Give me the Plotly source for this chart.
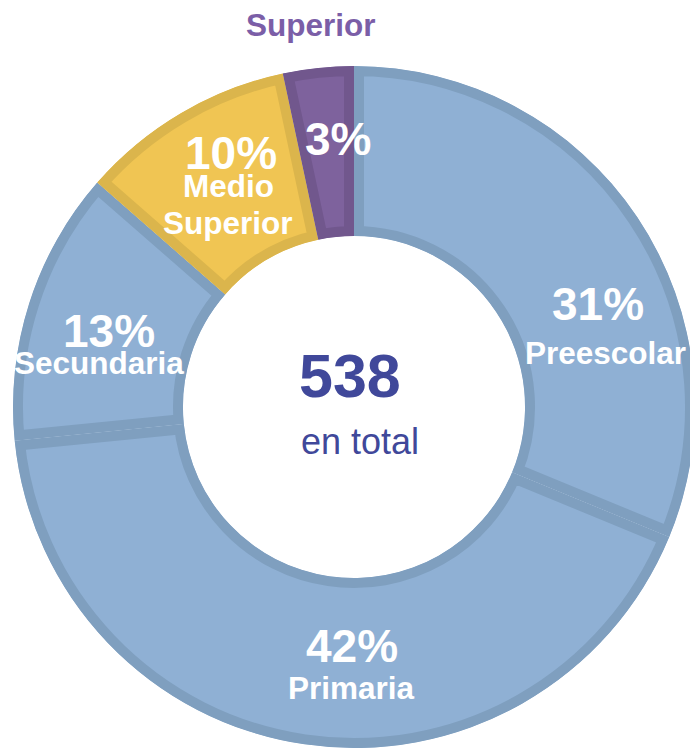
import plotly.graph_objects as go

# ---- data ----
labels = ["Preescolar", "Primaria", "Secundaria", "Medio Superior", "Superior"]
values = [168, 227, 70, 55, 18]
fill_colors = ["#8fb0d4", "#8fb0d4", "#8fb0d4", "#f0c553", "#7e629d"]
line_colors = ["#7f9fbf", "#7f9fbf", "#7f9fbf", "#dbb54c", "#71578d"]
total_label = "en total"

W, H = 700, 752   # slightly wider than the window: the ring is cut at the right edge
total = sum(values)

# pie geometry (pixels)
cx, cy, R = 354, 407, 341
dom_x = [(cx - R) / W, (cx + R) / W]
dom_y = [1 - (cy + R) / H, 1 - (cy - R) / H]

fig = go.Figure()
fig.add_trace(go.Pie(
    labels=labels, values=values, sort=False, direction="clockwise", rotation=0,
    hole=0.5015, textinfo="none", hoverinfo="label+percent", showlegend=False,
    marker=dict(colors=fill_colors, line=dict(color=line_colors, width=20)),
    domain=dict(x=dom_x, y=dom_y),
))

FONT = "Liberation Sans, Arial, sans-serif"

def ann(text, x, y, size, color="white", bold=True):
    t = f"<b>{text}</b>" if bold else text
    fig.add_annotation(text=t, x=x / W, y=1 - y / H, xref="paper", yref="paper",
                       showarrow=False, xanchor="center", yanchor="middle",
                       font=dict(family=FONT, size=size, color=color))

# label placement (pixel centres): pct position, then line positions
placements = {
    "Preescolar": ((598, 304), [(605, 353)]),
    "Primaria": ((352, 646), [(351, 688)]),
    "Secundaria": ((109, 331), [(99, 363)]),
    "Medio Superior": ((231, 153), [(228, 186), (228, 223)]),
    "Superior": ((338, 139), []),
}

for lab, v in zip(labels, values):
    pct = f"{round(v / total * 100)}%"
    (px, py), lines = placements[lab]
    ann(pct, px, py, 46)
    words = lab.split(" ")
    for w_, (lx, ly) in zip(words, lines):
        ann(w_, lx, ly, 31.5)

# outside label for smallest slice
ann(labels[4], 311, 25, 31.5, color="#7b5ea7")

# centre text
ann(str(total), 350, 376, 61, color="#40489a")
ann(total_label, 360, 441, 36, color="#40489a", bold=False)

fig.update_layout(width=W, height=H, margin=dict(l=0, r=0, t=0, b=0),
                  paper_bgcolor="white", plot_bgcolor="white")

# remove page margin/scrollbars and keep slice borders inside each slice
post = """
document.body.style.margin = '0';
document.body.style.overflow = 'hidden';
document.documentElement.style.overflow = 'hidden';
var gd = document.getElementById('{plot_id}');
function insetBorders(){
  var defs = gd.querySelector('svg.main-svg defs');
  var paths = gd.querySelectorAll('g.slice path.surface');
  paths.forEach(function(p, i){
    var id = 'sliceclip' + i;
    var old = document.getElementById(id); if (old) old.remove();
    var cp = document.createElementNS('http://www.w3.org/2000/svg', 'clipPath');
    cp.setAttribute('id', id);
    var pp = document.createElementNS('http://www.w3.org/2000/svg', 'path');
    pp.setAttribute('d', p.getAttribute('d'));
    cp.appendChild(pp);
    defs.appendChild(cp);
    p.setAttribute('clip-path', 'url(#' + id + ')');
  });
}
insetBorders();
if (gd.on) gd.on('plotly_afterplot', insetBorders);
"""
fig.write_html("out.html", post_script=post, config={"displayModeBar": False})
